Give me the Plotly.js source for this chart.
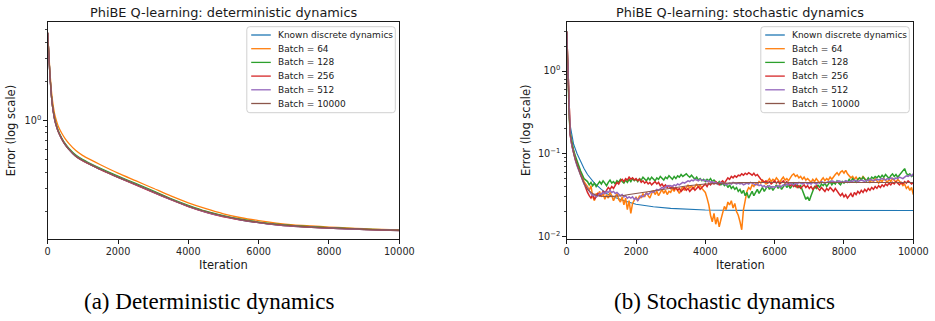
<!DOCTYPE html>
<html>
<head>
<meta charset="utf-8">
<script src="https://cdn.plot.ly/plotly-3.0.1.min.js"></script>
<style>
  html, body { margin: 0; padding: 0; background: #fff; }
  #chart { width: 935px; height: 321px; }
</style>
</head>
<body>
<div id="chart"></div>
<script>
// ---------------- data ----------------
const seriesNames  = ['Known discrete dynamics', 'Batch = 64', 'Batch = 128', 'Batch = 256', 'Batch = 512', 'Batch = 10000'];
const seriesColors = ['#1f77b4', '#ff7f0e', '#2ca02c', '#d62728', '#9467bd', '#8c564b'];

const xTickVals = [0, 2000, 4000, 6000, 8000, 10000];
const yTickValsDet = [1];
const yTickTextDet = ['10<sup>0</sup>'];
const yMinorDet = [0.2, 0.3, 0.4, 0.5, 0.6, 0.7, 0.8, 0.9, 2, 3, 4, 5];
const yTickValsSto = [0.01, 0.1, 1];
const yTickTextSto = ['10<sup>\u22122</sup>', '10<sup>\u22121</sup>', '10<sup>0</sup>'];
const yMinorSto = [0.02, 0.03, 0.04, 0.05, 0.06, 0.07, 0.08, 0.09, 0.2, 0.3, 0.4, 0.5, 0.6, 0.7, 0.8, 0.9, 2, 3];

// (a) deterministic dynamics
const detIter = [0, 30, 60, 90, 120, 160, 200, 250, 300, 400, 500, 600, 800, 1000, 1200, 1500, 2000, 2500,
                 3000, 3500, 4000, 4500, 5000, 5500, 6000, 6500, 7000, 7500, 8000, 8500, 9000, 9500, 10000];
const detKnown = [4.7, 3.28, 2.28, 1.74, 1.39, 1.155, 1.005, 0.895, 0.818, 0.718, 0.648, 0.598, 0.528, 0.488, 0.458, 0.418, 0.364, 0.32,
                  0.28, 0.246, 0.218, 0.197, 0.182, 0.171, 0.163, 0.157, 0.153, 0.15, 0.148, 0.146, 0.1445, 0.143, 0.142];
const det64    = [4.7, 3.4, 2.45, 1.9, 1.55, 1.28, 1.11, 0.99, 0.9, 0.795, 0.72, 0.665, 0.585, 0.535, 0.5, 0.455, 0.392, 0.343,
                  0.3, 0.262, 0.232, 0.209, 0.191, 0.178, 0.169, 0.162, 0.157, 0.154, 0.151, 0.1485, 0.1465, 0.145, 0.1435];
const det128   = [4.7, 3.32, 2.33, 1.78, 1.43, 1.18, 1.03, 0.915, 0.835, 0.73, 0.66, 0.61, 0.54, 0.498, 0.467, 0.427, 0.372, 0.327,
                  0.286, 0.25, 0.222, 0.2, 0.185, 0.1735, 0.165, 0.159, 0.155, 0.152, 0.1495, 0.1475, 0.1455, 0.144, 0.143];
const det256   = [4.7, 3.29, 2.29, 1.74, 1.39, 1.155, 1.0, 0.893, 0.815, 0.716, 0.646, 0.597, 0.527, 0.487, 0.457, 0.417, 0.363, 0.319,
                  0.279, 0.245, 0.217, 0.196, 0.181, 0.171, 0.163, 0.157, 0.153, 0.15, 0.148, 0.146, 0.1445, 0.143, 0.142];
const det512   = [4.7, 3.3, 2.3, 1.75, 1.4, 1.16, 1.008, 0.898, 0.82, 0.72, 0.65, 0.6, 0.53, 0.49, 0.46, 0.42, 0.365, 0.321,
                  0.281, 0.246, 0.218, 0.197, 0.182, 0.1715, 0.1635, 0.1575, 0.1535, 0.1505, 0.1485, 0.1465, 0.145, 0.1435, 0.1425];
const det10000 = [4.7, 3.3, 2.3, 1.75, 1.4, 1.16, 1.01, 0.9, 0.82, 0.72, 0.65, 0.6, 0.53, 0.49, 0.46, 0.42, 0.366, 0.322,
                  0.282, 0.247, 0.219, 0.198, 0.183, 0.172, 0.164, 0.158, 0.154, 0.151, 0.149, 0.147, 0.145, 0.1435, 0.1425];

// (b) stochastic dynamics
const stoKnownIter = [0, 20, 40, 60, 80, 100, 150, 200, 300, 400, 500, 600, 700, 800, 1000, 1200, 1400, 1700, 2000, 2500,
                      3000, 3500, 4000, 5000, 6000, 8000, 10000];
const stoKnown = [3.0, 1.5, 0.8, 0.45, 0.3, 0.22, 0.16, 0.13, 0.1, 0.08, 0.066, 0.056, 0.049, 0.044, 0.037, 0.032, 0.0295, 0.0265, 0.0245, 0.0228,
                  0.0218, 0.0212, 0.0208, 0.0206, 0.0205, 0.0205, 0.0205];

const sto10000Iter = [0, 25, 50, 75, 100, 150, 200, 250, 300, 400, 500, 600, 700, 800, 900, 1000, 1200, 1400, 1600, 1800, 2000, 2500,
                      3000, 3500, 4000, 4500, 5000, 5500, 6000, 7000, 8000, 9000, 10000];
const sto10000 = [3.0, 1.2, 0.5, 0.26, 0.172, 0.126, 0.1, 0.085, 0.072, 0.055, 0.044, 0.037, 0.034, 0.032, 0.031, 0.0305, 0.0302, 0.0305, 0.031, 0.032, 0.033, 0.0355,
                  0.0385, 0.041, 0.043, 0.0442, 0.0447, 0.0448, 0.0448, 0.0448, 0.0448, 0.0448, 0.0448];

// mini-batch runs: recorded at these early iterations, then every 50 iterations from 600 to 10000
const stoEarlyIter = [0, 25, 50, 75, 100, 150, 200, 250, 300, 400, 500];
const stoLogStep = 50;

const sto64 = [
  3.0, 1.25, 0.52, 0.27, 0.175, 0.128, 0.103, 0.088, 0.075, 0.058, 0.046,
  0.040, 0.036, 0.041, 0.030, 0.027, 0.033, 0.031, 0.035,
  0.030, 0.033, 0.028, 0.032, 0.029, 0.034, 0.031, 0.027, 0.030, 0.033, 0.028, 0.026, 0.030, 0.024, 0.029, 0.021, 0.027, 0.019, 0.025, 0.028,
  0.030, 0.027, 0.031, 0.029, 0.033, 0.030, 0.034, 0.031, 0.029, 0.033, 0.036, 0.032, 0.035, 0.031, 0.034, 0.037, 0.033, 0.036, 0.032, 0.035,
  0.034, 0.038, 0.035, 0.039, 0.036, 0.033, 0.037, 0.040, 0.036, 0.039, 0.042, 0.038, 0.041, 0.037, 0.040, 0.043, 0.039, 0.042, 0.038, 0.036,
  0.034, 0.029, 0.024, 0.018, 0.015, 0.019, 0.014, 0.017, 0.013, 0.016, 0.020, 0.023, 0.021, 0.026, 0.024, 0.027, 0.022, 0.025, 0.020, 0.018,
  0.015, 0.012, 0.021, 0.029, 0.035, 0.039, 0.037, 0.042, 0.040, 0.044, 0.042, 0.046, 0.044, 0.048, 0.045, 0.043, 0.047, 0.050, 0.046, 0.049,
  0.047, 0.051, 0.048, 0.045, 0.049, 0.052, 0.048, 0.050, 0.047, 0.051, 0.055, 0.057, 0.053, 0.055, 0.051, 0.053, 0.049, 0.052, 0.048, 0.050,
  0.048, 0.045, 0.049, 0.046, 0.050, 0.047, 0.044, 0.048, 0.051, 0.047, 0.050, 0.048, 0.052, 0.049, 0.053, 0.056, 0.059, 0.055, 0.060, 0.062,
  0.058, 0.063, 0.057, 0.054, 0.051, 0.053, 0.049, 0.052, 0.048, 0.051, 0.049, 0.053, 0.050, 0.047, 0.049, 0.045, 0.048, 0.046, 0.050, 0.047,
  0.044, 0.048, 0.046, 0.050, 0.047, 0.045, 0.049, 0.046, 0.050, 0.048, 0.045, 0.049, 0.047, 0.044, 0.041, 0.043, 0.038, 0.040, 0.036, 0.039,
  0.032
];
const sto128 = [
  3.0, 1.2, 0.5, 0.27, 0.18, 0.135, 0.11, 0.094, 0.08, 0.062, 0.05,
  0.046, 0.042, 0.045, 0.041, 0.044, 0.040, 0.043, 0.046,
  0.043, 0.047, 0.044, 0.041, 0.045, 0.048, 0.044, 0.046, 0.043, 0.047, 0.045, 0.049, 0.046, 0.044, 0.048, 0.045, 0.049, 0.046, 0.050, 0.047,
  0.049, 0.046, 0.050, 0.048, 0.052, 0.049, 0.047, 0.051, 0.048, 0.052, 0.050, 0.047, 0.051, 0.049, 0.053, 0.050, 0.048, 0.052, 0.050, 0.054,
  0.051, 0.049, 0.053, 0.050, 0.054, 0.052, 0.056, 0.053, 0.055, 0.057, 0.054, 0.052, 0.055, 0.051, 0.049, 0.052, 0.048, 0.050, 0.047, 0.049,
  0.046, 0.049, 0.047, 0.050, 0.046, 0.048, 0.045, 0.043, 0.046, 0.042, 0.044, 0.041, 0.043, 0.039, 0.042, 0.038, 0.040, 0.037, 0.039, 0.035,
  0.037, 0.033, 0.036, 0.031, 0.034, 0.029, 0.032, 0.035, 0.031, 0.034, 0.037, 0.033, 0.036, 0.039, 0.035, 0.038, 0.041, 0.037, 0.040, 0.036,
  0.039, 0.042, 0.038, 0.041, 0.037, 0.040, 0.043, 0.039, 0.042, 0.038, 0.041, 0.044, 0.040, 0.042, 0.039, 0.041, 0.036, 0.032, 0.028, 0.030,
  0.027, 0.031, 0.036, 0.040, 0.038, 0.042, 0.039, 0.043, 0.041, 0.044, 0.040, 0.043, 0.046, 0.042, 0.045, 0.043, 0.047, 0.044, 0.042, 0.046,
  0.044, 0.047, 0.045, 0.049, 0.046, 0.050, 0.047, 0.045, 0.049, 0.051, 0.048, 0.052, 0.049, 0.047, 0.051, 0.048, 0.052, 0.050, 0.053, 0.051,
  0.054, 0.051, 0.055, 0.052, 0.056, 0.053, 0.050, 0.054, 0.057, 0.053, 0.056, 0.052, 0.055, 0.058, 0.062, 0.066, 0.058, 0.055, 0.057, 0.053,
  0.055
];
const sto256 = [
  3.0, 1.22, 0.5, 0.26, 0.17, 0.125, 0.1, 0.085, 0.073, 0.056, 0.045,
  0.034, 0.031, 0.029, 0.032, 0.028, 0.030, 0.033, 0.031,
  0.032, 0.035, 0.033, 0.036, 0.039, 0.037, 0.040, 0.038, 0.042, 0.045, 0.043, 0.047, 0.049, 0.046, 0.050, 0.048, 0.052, 0.049, 0.051, 0.048,
  0.050, 0.047, 0.049, 0.045, 0.047, 0.044, 0.046, 0.043, 0.045, 0.042, 0.044, 0.046, 0.043, 0.045, 0.041, 0.043, 0.040, 0.042, 0.039, 0.041,
  0.038, 0.040, 0.037, 0.039, 0.036, 0.038, 0.035, 0.037, 0.039, 0.036, 0.038, 0.035, 0.037, 0.039, 0.036, 0.038, 0.040, 0.037, 0.039, 0.041,
  0.043, 0.040, 0.044, 0.042, 0.045, 0.043, 0.046, 0.044, 0.042, 0.045, 0.047, 0.044, 0.048, 0.051, 0.049, 0.053, 0.051, 0.054, 0.052, 0.055,
  0.054, 0.057, 0.055, 0.058, 0.056, 0.059, 0.057, 0.055, 0.058, 0.054, 0.056, 0.052, 0.049, 0.047, 0.045, 0.047, 0.044, 0.046, 0.043, 0.045,
  0.047, 0.044, 0.046, 0.043, 0.045, 0.047, 0.044, 0.046, 0.043, 0.041, 0.043, 0.040, 0.042, 0.039, 0.041, 0.038, 0.040, 0.042, 0.039, 0.041,
  0.038, 0.040, 0.037, 0.039, 0.041, 0.038, 0.036, 0.039, 0.037, 0.035, 0.038, 0.036, 0.039, 0.037, 0.035, 0.038, 0.035, 0.033, 0.031, 0.033,
  0.030, 0.032, 0.029, 0.031, 0.033, 0.030, 0.034, 0.032, 0.035, 0.033, 0.036, 0.034, 0.037, 0.035, 0.038, 0.036, 0.039, 0.037, 0.040, 0.038,
  0.041, 0.039, 0.042, 0.040, 0.043, 0.041, 0.044, 0.042, 0.045, 0.043, 0.046, 0.044, 0.042, 0.045, 0.043, 0.046, 0.044, 0.047, 0.045, 0.043,
  0.045
];
const sto512 = [
  3.0, 1.2, 0.49, 0.26, 0.17, 0.124, 0.099, 0.083, 0.071, 0.054, 0.043,
  0.038, 0.035, 0.033, 0.031, 0.032, 0.030, 0.031, 0.033,
  0.032, 0.034, 0.033, 0.035, 0.034, 0.036, 0.034, 0.035, 0.033, 0.034, 0.032, 0.031, 0.032, 0.030, 0.031, 0.029, 0.030, 0.029, 0.030, 0.028,
  0.029, 0.027, 0.029, 0.031, 0.030, 0.032, 0.033, 0.032, 0.034, 0.035, 0.034, 0.036, 0.037, 0.036, 0.038, 0.039, 0.038, 0.040, 0.041, 0.040,
  0.041, 0.040, 0.042, 0.041, 0.043, 0.042, 0.044, 0.045, 0.044, 0.046, 0.047, 0.046, 0.048, 0.047, 0.049, 0.048, 0.047, 0.049, 0.048, 0.047,
  0.048, 0.046, 0.047, 0.045, 0.046, 0.044, 0.045, 0.043, 0.044, 0.045, 0.043, 0.044, 0.042, 0.043, 0.044, 0.043, 0.045, 0.044, 0.043, 0.044,
  0.043, 0.044, 0.042, 0.043, 0.044, 0.043, 0.045, 0.044, 0.043, 0.042, 0.043, 0.041, 0.042, 0.040, 0.041, 0.039, 0.040, 0.041, 0.039, 0.040,
  0.039, 0.040, 0.041, 0.039, 0.040, 0.042, 0.041, 0.043, 0.042, 0.044, 0.043, 0.042, 0.044, 0.043, 0.045, 0.044, 0.043, 0.044, 0.045, 0.043,
  0.044, 0.043, 0.045, 0.044, 0.043, 0.045, 0.044, 0.046, 0.045, 0.044, 0.045, 0.046, 0.045, 0.047, 0.046, 0.045, 0.046, 0.047, 0.046, 0.045,
  0.046, 0.047, 0.046, 0.045, 0.047, 0.046, 0.048, 0.047, 0.046, 0.047, 0.048, 0.047, 0.046, 0.048, 0.047, 0.049, 0.048, 0.047, 0.048, 0.049,
  0.048, 0.049, 0.050, 0.049, 0.048, 0.050, 0.049, 0.051, 0.050, 0.049, 0.051, 0.050, 0.052, 0.051, 0.050, 0.052, 0.054, 0.053, 0.055, 0.054,
  0.057
];

// ---------------- figure geometry (pixels) ----------------
const W = 935, H = 321;
const px = x => x / W;
const py = y => 1 - y / H;
const plotTop = 22.3, plotBottom = 239.3;
const leftBox = [47.7, 399.3], rightBox = [566.7, 913.3];

// iteration grid of the mini-batch runs
const stoIter = stoEarlyIter.concat(
  Array.from({length: (10000 - 600) / stoLogStep + 1}, (_, i) => 600 + i * stoLogStep));
[sto64, sto128, sto256, sto512].forEach((s, k) => {
  if (s.length !== stoIter.length) throw new Error('series ' + k + ' length ' + s.length + ' vs ' + stoIter.length);
});

const detSeries = [detKnown, det64, det128, det256, det512, det10000];
const stoSeries = [[stoKnownIter, stoKnown], [stoIter, sto64], [stoIter, sto128], [stoIter, sto256], [stoIter, sto512], [sto10000Iter, sto10000]];

const traces = [];
detSeries.forEach((ys, i) => traces.push({
  type: 'scatter', mode: 'lines', x: detIter, y: ys, xaxis: 'x', yaxis: 'y',
  name: seriesNames[i], line: {color: seriesColors[i], width: 1.3, shape: 'spline', smoothing: 0.6},
  hoverinfo: 'skip'
}));
stoSeries.forEach(([xs, ys], i) => traces.push({
  type: 'scatter', mode: 'lines', x: xs, y: ys, xaxis: 'x2', yaxis: 'y2',
  name: seriesNames[i], line: {color: seriesColors[i], width: i === 0 || i === 5 ? 1.1 : 1.5},
  hoverinfo: 'skip'
}));

const tickFont = {family: 'DejaVu Sans', size: 9.7, color: '#262626'};
const axisBase = {
  showline: true, mirror: true, linecolor: '#1a1a1a', linewidth: 1,
  ticks: 'outside', ticklen: 3.5, tickwidth: 1, tickcolor: '#1a1a1a',
  showgrid: false, zeroline: false, tickfont: tickFont
};
const xAxis = dom => Object.assign({}, axisBase, {
  domain: dom, range: [0, 10000], tickmode: 'array', tickvals: xTickVals, tickformat: 'd'
});
const yAxis = (anchor, rng, vals, text, minorVals) => Object.assign({}, axisBase, {
  anchor: anchor, type: 'log', domain: [py(plotBottom), py(plotTop)], range: rng,
  tickmode: 'array', tickvals: vals, ticktext: text,
  minor: {tickmode: 'array', tickvals: minorVals, ticks: 'outside', ticklen: 2, tickwidth: 0.8, tickcolor: '#1a1a1a', showgrid: false}
});

// ---------------- text ----------------
const annotations = [];
const shapes = [];
const txt = (x, y, text, size, extra) => annotations.push(Object.assign({
  xref: 'paper', yref: 'paper', x: px(x), y: py(y), text: text, showarrow: false,
  xanchor: 'center', yanchor: 'middle', font: {family: 'DejaVu Sans', size: size, color: '#1a1a1a'}
}, extra || {}));

const panels = [
  {box: leftBox, title: 'PhiBE Q-learning: deterministic dynamics', caption: '(a) Deterministic dynamics', ylabX: 11.3, capX: 209},
  {box: rightBox, title: 'PhiBE Q-learning: stochastic dynamics', caption: '(b) Stochastic dynamics', ylabX: 526, capX: 724}
];
panels.forEach(p => {
  const cx = (p.box[0] + p.box[1]) / 2;
  txt(cx, 12.3, p.title, 12.9);
  txt(cx, 265, 'Iteration', 11.5);
  txt(p.ylabX, 131, 'Error (log scale)', 11.5, {textangle: -90});
  txt(p.capX, 301, p.caption, 23, {font: {family: 'Liberation Serif', size: 23, color: '#000'}});

  // legend panel in the upper-right corner of the axes
  const bx1 = p.box[1] - 4, bx0 = bx1 - 148.5, by0 = plotTop + 4.4, by1 = by0 + 86;
  const r = 3;
  const path = 'M' + px(bx0 + r) + ',' + py(by0) +
    ' L' + px(bx1 - r) + ',' + py(by0) + ' Q' + px(bx1) + ',' + py(by0) + ' ' + px(bx1) + ',' + py(by0 + r) +
    ' L' + px(bx1) + ',' + py(by1 - r) + ' Q' + px(bx1) + ',' + py(by1) + ' ' + px(bx1 - r) + ',' + py(by1) +
    ' L' + px(bx0 + r) + ',' + py(by1) + ' Q' + px(bx0) + ',' + py(by1) + ' ' + px(bx0) + ',' + py(by1 - r) +
    ' L' + px(bx0) + ',' + py(by0 + r) + ' Q' + px(bx0) + ',' + py(by0) + ' ' + px(bx0 + r) + ',' + py(by0) + ' Z';
  shapes.push({type: 'path', xref: 'paper', yref: 'paper', path: path,
    fillcolor: 'rgba(255,255,255,0.8)', line: {color: '#d0d0d0', width: 1}, layer: 'above'});
  seriesNames.forEach((name, i) => {
    const yy = by0 + 8.3 + 13.7 * i;
    shapes.push({type: 'line', xref: 'paper', yref: 'paper', x0: px(bx0 + 4.4), x1: px(bx0 + 24), y0: py(yy), y1: py(yy),
      line: {color: seriesColors[i], width: 1.3}, layer: 'above'});
    txt(bx0 + 28.7, yy, name, 9, {xanchor: 'left'});
  });
});

const layout = {
  width: W, height: H, margin: {l: 0, r: 0, t: 0, b: 0},
  paper_bgcolor: '#fff', plot_bgcolor: '#fff', showlegend: false,
  xaxis: xAxis([px(leftBox[0]), px(leftBox[1])]),
  xaxis2: xAxis([px(rightBox[0]), px(rightBox[1])]),
  yaxis: yAxis('x', [Math.log10(0.1215), Math.log10(5.67)], yTickValsDet, yTickTextDet, yMinorDet),
  yaxis2: yAxis('x2', [-2.036, 0.59], yTickValsSto, yTickTextSto, yMinorSto),
  annotations: annotations, shapes: shapes
};
layout.xaxis.anchor = 'y';
layout.xaxis2.anchor = 'y2';

Plotly.newPlot('chart', traces, layout, {staticPlot: true, displayModeBar: false});
</script>
</body>
</html>
